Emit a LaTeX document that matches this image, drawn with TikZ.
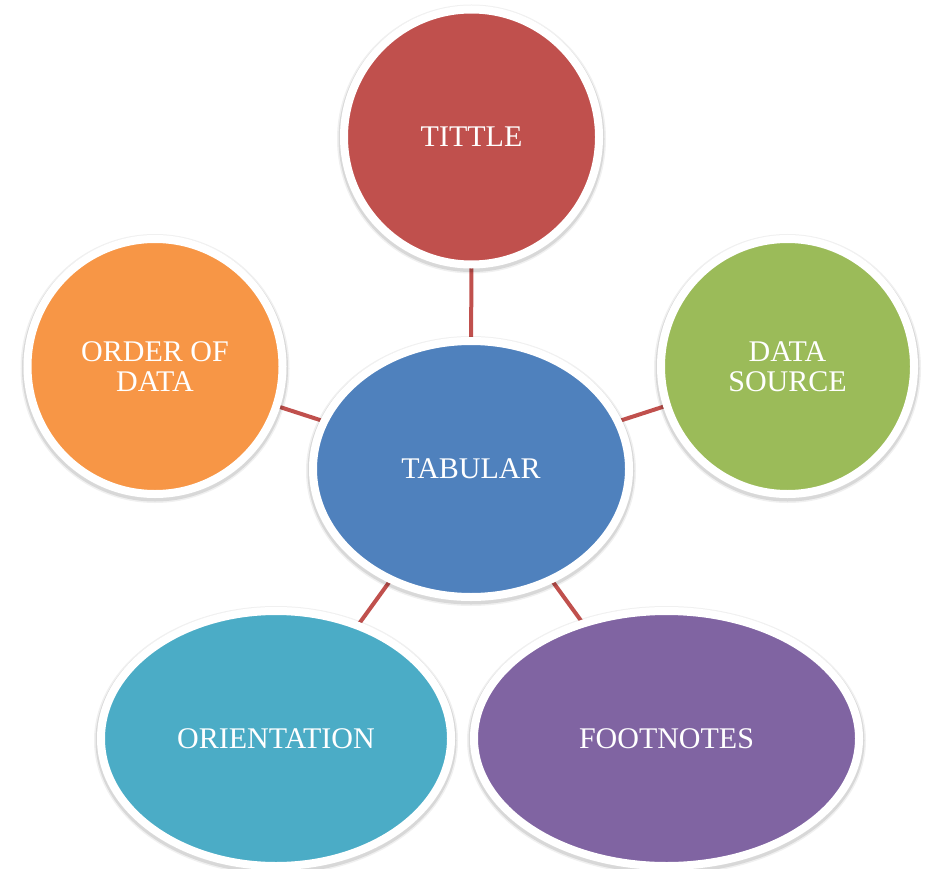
\documentclass[tikz,border=0pt]{standalone}
\usepackage{fontspec}
\setmainfont{Liberation Serif}
\usetikzlibrary{shapes.geometric,backgrounds}
\definecolor{cRed}{HTML}{C0504D}
\definecolor{cOrange}{HTML}{F79646}
\definecolor{cGreen}{HTML}{9BBB59}
\definecolor{cBlue}{HTML}{4F81BD}
\definecolor{cAqua}{HTML}{4BACC6}
\definecolor{cPurple}{HTML}{8064A2}
\tikzset{
  bub/.style={ellipse, draw=white, line width=8pt, inner sep=0pt,
    text=white, align=center, font=\fontsize{30}{30}\selectfont,
    preaction={draw=black, draw opacity=0.06, line width=14pt, transform canvas={yshift=-2pt}},
    preaction={draw=black, draw opacity=0.10, line width=11pt, transform canvas={yshift=-2pt}}},
  link/.style={draw=cRed, line width=4pt}
}
\begin{document}
\begin{tikzpicture}[x=1pt,y=-1pt]
\useasboundingbox (0,0) rectangle (926,869);
\node[bub, fill=cRed, minimum width=255pt, minimum height=255pt] (tit) at (471.5,137) {TITTLE};
\node[bub, fill=cOrange, minimum width=255pt, minimum height=255pt] (ord) at (155,366.5) {ORDER OF\\DATA};
\node[bub, fill=cGreen, minimum width=253pt, minimum height=255pt] (src) at (787.5,366.5) {DATA\\SOURCE};
\node[bub, fill=cBlue, minimum width=316pt, minimum height=256pt] (tab) at (471,469) {TABULAR};
\node[bub, fill=cAqua, minimum width=350pt, minimum height=255pt] (ori) at (276,738.5) {ORIENTATION};
\node[bub, fill=cPurple, minimum width=385pt, minimum height=255pt] (foot) at (666.5,738.5) {FOOTNOTES};
\begin{scope}[on background layer]
\draw[link] (tab.center) -- (tit.center);
\draw[link] (tab.center) -- (ord.center);
\draw[link] (tab.center) -- (src.center);
\draw[link] (tab.center) -- (ori.center);
\draw[link] (tab.center) -- (foot.center);
\end{scope}
\end{tikzpicture}
\end{document}
